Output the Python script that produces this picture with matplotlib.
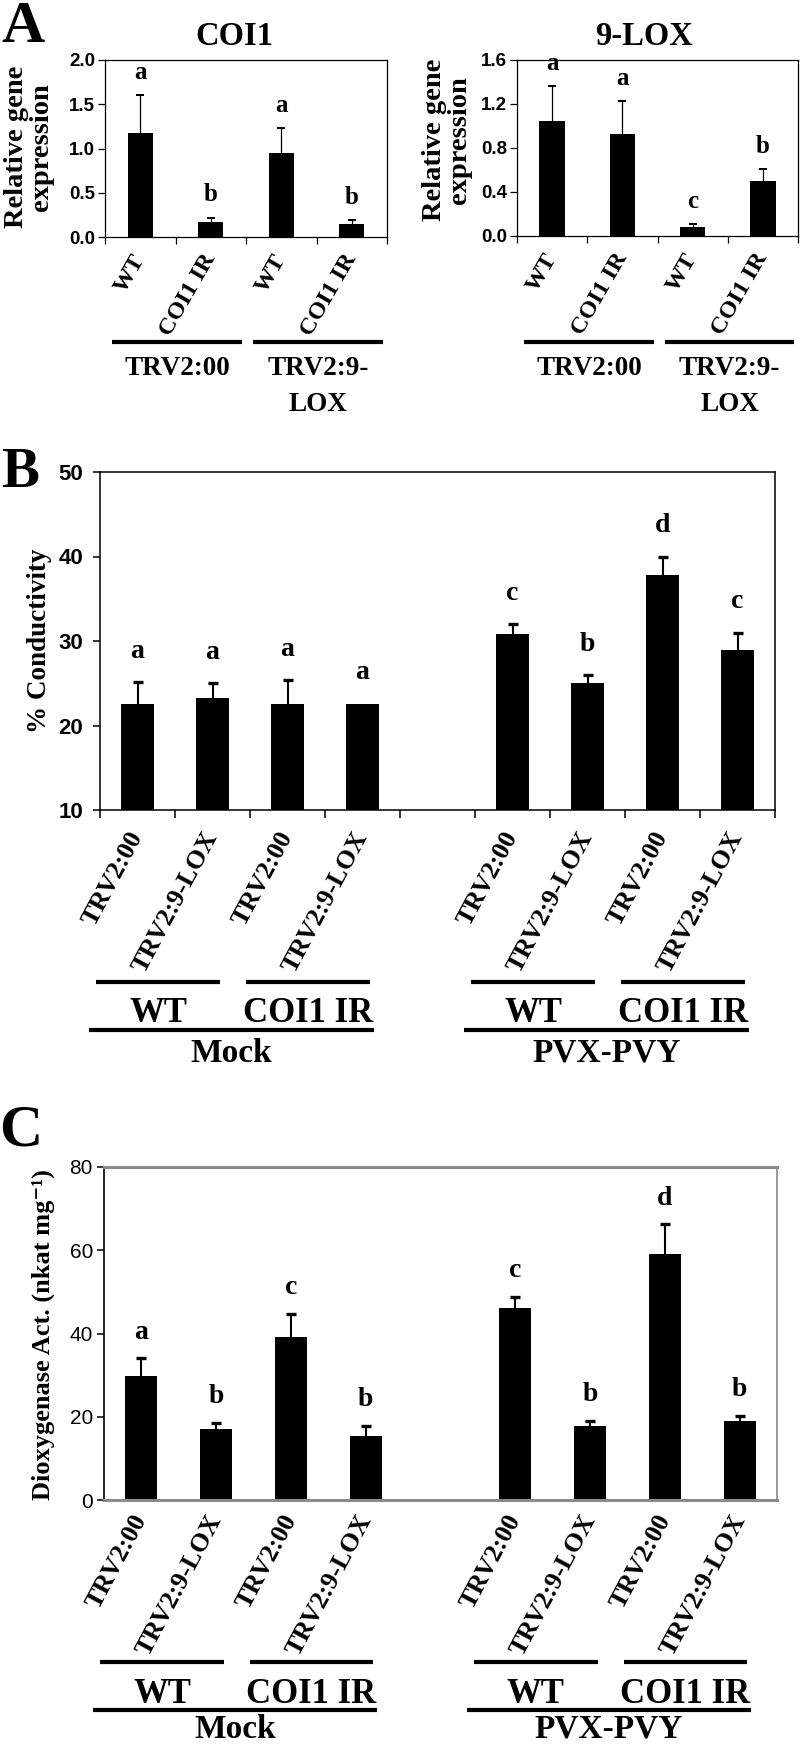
import numpy as np
import matplotlib
matplotlib.use('Agg')
import matplotlib.pyplot as plt
from matplotlib import transforms

SERIF = ['Liberation Serif', 'DejaVu Serif']
SANS = ['Liberation Sans', 'DejaVu Sans']
NARROW = ['Liberation Sans Narrow', 'Liberation Sans', 'DejaVu Sans']

# ===== Panel A: relative gene expression =====
a_labels = ['WT', 'COI1 IR', 'WT', 'COI1 IR']
a_groups = ['TRV2:00', 'TRV2:9-\nLOX']
coi1_mean = [1.18, 0.17, 0.95, 0.15]
coi1_err = [0.42, 0.05, 0.28, 0.04]
coi1_sig = ['a', 'b', 'a', 'b']
lox_mean = [1.05, 0.93, 0.08, 0.50]
lox_err = [0.31, 0.30, 0.03, 0.11]
lox_sig = ['a', 'a', 'c', 'b']

# ===== Panels B and C share the same categories =====
bc_labels = ['TRV2:00', 'TRV2:9-LOX', 'TRV2:00', 'TRV2:9-LOX', '',
             'TRV2:00', 'TRV2:9-LOX', 'TRV2:00', 'TRV2:9-LOX']
geno_groups = ['WT', 'COI1 IR', 'WT', 'COI1 IR']
treat_groups = ['Mock', 'PVX-PVY']

# B: % conductivity (slot 4 is the empty gap)
cond_mean = [22.6, 23.3, 22.6, 22.6, np.nan, 30.8, 25.0, 37.8, 28.9]
cond_err = [2.6, 1.7, 2.8, 0.0, np.nan, 1.2, 1.0, 2.2, 2.1]
cond_sig = ['a', 'a', 'a', 'a', '', 'c', 'b', 'd', 'c']

# C: dioxygenase activity
diox_mean = [29.7, 17.1, 39.1, 15.3, np.nan, 46.2, 17.7, 59.2, 19.0]
diox_err = [4.3, 1.5, 5.7, 2.4, np.nan, 2.6, 1.2, 7.0, 1.3]
diox_sig = ['a', 'b', 'c', 'b', '', 'c', 'b', 'd', 'b']

W, H = 800, 1746
fig = plt.figure(figsize=(W / 100, H / 100), dpi=100)


def axes_px(x0, y0, x1, y1):
    return fig.add_axes([x0 / W, 1 - y1 / H, (x1 - x0) / W, (y1 - y0) / H])


def fy(ypx):
    return 1 - ypx / H


def draw_bars(ax, mean, err, sig, width, lsize, lpad, capsize, elw):
    x = np.arange(len(mean))
    m = np.asarray(mean, float)
    e = np.asarray(err, float)
    ok = np.isfinite(m)
    ax.bar(x[ok], m[ok], width=width, color='black', zorder=2)
    he = ok & (np.nan_to_num(e) > 0)
    _, caps, _ = ax.errorbar(x[he], m[he], yerr=[np.zeros(he.sum()), e[he]], fmt='none',
                             ecolor='black', elinewidth=elw, capsize=capsize,
                             capthick=elw * 1.6, zorder=3)
    caps[0].set_visible(False)  # only upper caps
    for xi, mi, ei, s in zip(x, m, e, sig):
        if not np.isfinite(mi):
            continue
        top = mi + (ei if ei > 0 else 0)
        ax.annotate(s, (xi, top), xytext=(0, lpad), textcoords='offset points',
                    ha='center', va='bottom', fontsize=lsize, fontweight='bold', family=SERIF)
    ax.set_xlim(-0.5, len(mean) - 0.5)
    ax.set_xticks(np.arange(-0.5, len(mean), 1))
    ax.tick_params(axis='x', which='major', labelbottom=False)


def cat_labels(ax, labels, size, rot, pad):
    ax.set_xticks(np.arange(len(labels)), labels, minor=True, rotation=rot, ha='right',
                  va='center', rotation_mode='anchor', fontsize=size, fontweight='bold',
                  family=SERIF)
    ax.tick_params(axis='x', which='minor', length=0, pad=pad)


def rule(ax, x0, x1, ypx, lw=3):
    tr = transforms.blended_transform_factory(ax.transData, fig.transFigure)
    ax.plot([x0, x1], [fy(ypx), fy(ypx)], transform=tr, color='black', lw=lw,
            clip_on=False, solid_capstyle='butt')


def rule_text(ax, xc, ypx, s, size, step=36):
    tr = transforms.blended_transform_factory(ax.transData, fig.transFigure)
    for k, line in enumerate(s.split('\n')):
        ax.text(xc, fy(ypx + k * step), line, transform=tr, ha='center', va='baseline',
                fontsize=size, fontweight='bold', family=SERIF)


# ===== Panel A =====
for box, mean, err, sig, ymax, step, title, tx, ylx, yly in [
        ((105, 60, 387, 237), coi1_mean, coi1_err, coi1_sig, 2.0, 0.5, 'COI1', 234, 29, 147),
        ((517, 60, 798, 236), lox_mean, lox_err, lox_sig, 1.6, 0.4, '9-LOX', 644, 447, 140)]:
    ax = axes_px(*box)
    draw_bars(ax, mean, err, sig, 0.36, 18, 8, 2.9, 0.9)
    ax.set_ylim(0, ymax)
    ax.set_yticks(np.arange(0, ymax + 1e-9, step))
    ax.yaxis.set_major_formatter('{x:.1f}')
    for lab in ax.get_yticklabels():
        lab.set_family(SANS)
        lab.set_fontweight('bold')
        lab.set_fontsize(13.5)
    ax.tick_params(axis='y', length=5, width=0.9, pad=2)
    ax.tick_params(axis='x', which='major', length=5, width=0.9)
    for sp in ax.spines.values():
        sp.set_linewidth(0.9)
    cat_labels(ax, a_labels, 17.5, 60, 13.5)
    for g, (i0, i1) in enumerate([(0, 1), (2, 3)]):
        x0, x1 = i0 - 0.4, i1 + 0.45
        rule(ax, x0, x1, 342)
        rule_text(ax, (x0 + x1) / 2, 375, a_groups[g], 19.5)
    fig.text(tx / W, fy(45), title, ha='center', va='baseline', fontsize=23.5,
             fontweight='bold', family=SERIF)
    fig.text(ylx / W, fy(yly), 'Relative gene\nexpression', rotation=90, ha='center',
             va='center', ma='center', fontsize=20.5, fontweight='bold', family=SERIF,
             linespacing=1.0)

fig.text(23 / W, fy(42), 'A', ha='center', va='baseline', fontsize=43,
         fontweight='bold', family=SERIF)


def bc_groups(ax, y_rule1, y_text1, y_rule2, y_text2):
    for g, i0 in enumerate([0, 2, 5, 7]):
        x0, x1 = i0 - 0.55, i0 + 1.1
        rule(ax, x0, x1, y_rule1)
        rule_text(ax, (x0 + x1) / 2, y_text1, geno_groups[g], 25)
    for g, i0 in enumerate([0, 5]):
        x0, x1 = i0 - 0.65, i0 + 3.15
        rule(ax, x0, x1, y_rule2)
        rule_text(ax, (x0 + x1) / 2, y_text2, treat_groups[g], 24)


# ===== Panel B =====
ax = axes_px(100, 472, 775, 810)
draw_bars(ax, cond_mean, cond_err, cond_sig, 0.43, 20, 13, 3.6, 1.5)
ax.set_ylim(10, 50)
ax.set_yticks(np.arange(10, 51, 10))
for lab in ax.get_yticklabels():
    lab.set_family(NARROW)
    lab.set_fontweight('bold')
    lab.set_fontsize(16)
ax.tick_params(axis='y', length=5, width=1.1, pad=7)
ax.tick_params(axis='x', which='major', length=6, width=1.1)
for sp in ax.spines.values():
    sp.set_linewidth(1.1)
cat_labels(ax, bc_labels, 19, 62, 16.5)
bc_groups(ax, 982, 1022, 1030, 1062)
fig.text(40 / W, fy(641), '% Conductivity', rotation=90, ha='center', va='center',
         fontsize=19.5, fontweight='bold', family=SERIF)
fig.text(20 / W, fy(487), 'B', ha='center', va='baseline', fontsize=41,
         fontweight='bold', family=SERIF)

# ===== Panel C =====
ax = axes_px(104, 1167, 777, 1500)
draw_bars(ax, diox_mean, diox_err, diox_sig, 0.43, 20, 10, 3.6, 1.5)
ax.set_ylim(0, 80)
ax.set_yticks(np.arange(0, 81, 20))
for lab in ax.get_yticklabels():
    lab.set_family(SANS)
    lab.set_fontsize(15)
ax.tick_params(axis='y', length=5, width=1.1, pad=3)
ax.tick_params(axis='x', which='major', length=0)
for name, sp in ax.spines.items():
    sp.set_color('black' if name == 'left' else '#8a8a8a')
    sp.set_linewidth(1.2 if name in ('left', 'right') else 2.2)
cat_labels(ax, bc_labels, 19, 62, 11.5)
bc_groups(ax, 1662, 1703, 1710, 1738)
fig.text(43 / W, fy(1335), 'Dioxygenase Act. (nkat mg\u207b\u00b9)', rotation=90,
         ha='center', va='center', fontsize=19, fontweight='bold', family=SERIF)
fig.text(21 / W, fy(1146), 'C', ha='center', va='baseline', fontsize=43,
         fontweight='bold', family=SERIF)

fig.savefig('out.png', dpi=100)
